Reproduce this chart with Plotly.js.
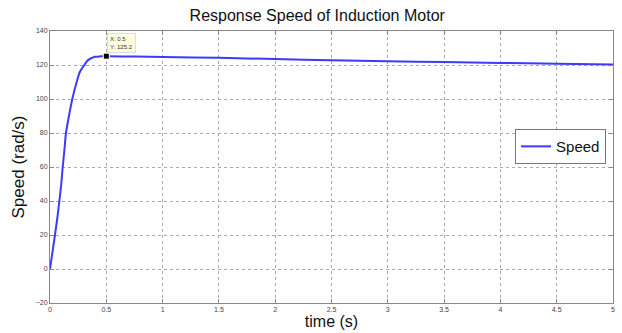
<!DOCTYPE html>
<html>
<head>
<meta charset="utf-8">
<script src="https://cdn.plot.ly/plotly-3.0.1.min.js"></script>
<style>html,body{margin:0;padding:0;background:#fff;}#chart{width:622px;height:333px;}</style>
</head>
<body>
<div id="chart"></div>
<script>
const timeS = [0, 0.02, 0.044, 0.065, 0.083, 0.1, 0.113, 0.128, 0.142, 0.17, 0.198, 0.237, 0.266, 0.305, 0.34, 0.4, 0.45, 0.5, 0.75, 1, 1.5, 2, 2.5, 3, 3.5, 4, 4.5, 5];
const speed = [0, 9, 20, 30, 40, 50, 60, 70, 80, 90.6, 100, 110, 116, 120, 123, 124.8, 125.1, 125.2, 125.0, 124.7, 124.2, 123.5, 122.8, 122.2, 121.7, 121.2, 120.8, 120.3];
const xTicks = [0, 0.5, 1, 1.5, 2, 2.5, 3, 3.5, 4, 4.5, 5];
const xTickText = ['0', '0.5', '1', '1.5', '2', '2.5', '3', '3.5', '4', '4.5', '5'];
const yTicks = [-20, 0, 20, 40, 60, 80, 100, 120, 140];
const tipX = [0.5];
const tipY = [125.2];

const axisCommon = {
  showline: true, linecolor: '#888', linewidth: 1, mirror: 'ticks',
  ticks: 'inside', ticklen: 4, tickcolor: '#888',
  showgrid: true, gridcolor: '#aaa', griddash: 'dot', gridwidth: 1,
  zeroline: false,
  tickfont: {family: 'Arial, Liberation Sans, sans-serif', size: 7, color: '#444'}
};

const traces = [
  {x: timeS, y: speed, mode: 'lines', name: 'Speed', line: {color: '#3b3bff', width: 2, shape: 'spline', smoothing: 0.8}, hoverinfo: 'skip'},
  {x: tipX, y: tipY, mode: 'markers', showlegend: false, marker: {color: '#000', size: 6, symbol: 'square', line: {color: '#fff', width: 1}}}
];

const layout = {
  width: 622, height: 333,
  margin: {l: 50, r: 9, t: 31, b: 30},
  paper_bgcolor: '#fff', plot_bgcolor: '#fff',
  title: {text: 'Response Speed of Induction Motor', x: 0.51, xanchor: 'center', y: 0.972, yanchor: 'top',
          font: {family: 'Arial, Liberation Sans, sans-serif', size: 16, color: '#111'}},
  xaxis: Object.assign({}, axisCommon, {range: [0, 5], tickvals: xTicks, ticktext: xTickText,
    title: {text: 'time (s)', standoff: 2, font: {family: 'Arial, Liberation Sans, sans-serif', size: 16, color: '#111'}}}),
  yaxis: Object.assign({}, axisCommon, {range: [-20, 140], tickvals: yTicks,
    title: {text: 'Speed (rad/s)', standoff: 6, font: {family: 'Arial, Liberation Sans, sans-serif', size: 17, color: '#111'}}}),
  legend: {x: 0.826, y: 0.575, xanchor: 'left', yanchor: 'middle', bgcolor: '#fff', bordercolor: '#777', borderwidth: 1,
    font: {family: 'Arial, Liberation Sans, sans-serif', size: 15, color: '#111'}, itemwidth: 30, tracegroupgap: 0},
  annotations: [{
    x: tipX[0], y: tipY[0], xref: 'x', yref: 'y',
    text: 'X: ' + tipX[0] + '<br>Y: ' + tipY[0], align: 'left',
    showarrow: false, xanchor: 'left', yanchor: 'bottom', xshift: 1, yshift: 3,
    bgcolor: '#ffffe0', bordercolor: '#ddd', borderwidth: 1, borderpad: 2,
    font: {family: 'Arial, Liberation Sans, sans-serif', size: 6, color: '#333'}
  }]
};

Plotly.newPlot('chart', traces, layout, {displayModeBar: false, staticPlot: true});
</script>
</body>
</html>
